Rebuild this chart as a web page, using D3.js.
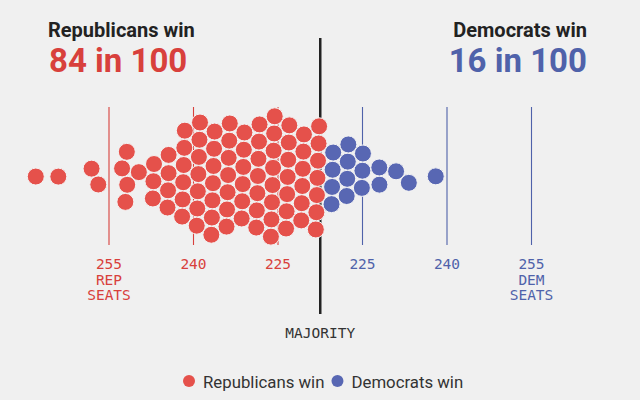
<!DOCTYPE html>
<html>
<head>
<meta charset="utf-8">
<script src="https://cdn.jsdelivr.net/npm/d3@7"></script>
<style>
  html, body { margin: 0; padding: 0; background: #f0f0f0; }
  svg { display: block; }
</style>
</head>
<body>
<div id="chart"></div>
<script>
// simulated outcomes
// republican wins, in republican seats
const repWins = [
    268, 264, 258, 257, 252, 252, 252, 252, 249,
    247, 246, 246, 245, 244, 243, 243, 242, 241, 241, 241,
    240, 240, 240, 239, 238, 238, 238, 238, 238,
    236, 236, 236, 236, 235, 235, 235,
    234, 234, 233, 233, 233, 233, 233, 232, 232, 231, 231, 231, 231, 230,
    229, 229, 229, 229, 228, 228, 226, 226, 226, 226, 226, 226, 226, 226, 225,
    224, 224, 223, 223, 223, 223, 221, 221, 221, 221, 221, 221,
    220, 219, 219, 219, 219, 218, 218
];
// democratic wins, in democratic seats
const demWins = [218, 219, 219, 219, 219, 221, 221, 222, 223, 224, 224, 228, 228, 231, 233, 238];

const totalSeats = 435;
const majority = 218;
const repTicks = [255, 240, 225];
const demTicks = [225, 240, 255];
const legendLabels = ["Republicans win", "Democrats win"];

const width = 640, height = 400;
const red = "#e5514b", blue = "#5867b3";
const redText = "#d8403c", blueText = "#4f62aa";
const mono = "'DejaVu Sans Mono', monospace";
const sans = "Roboto, 'Noto Sans', sans-serif";

const svg = d3.select('#chart')
    .append('svg')
    .attr('width', width)
    .attr('height', height);

svg.append('rect')
    .attr('width', width)
    .attr('height', height)
    .attr('fill', '#f0f0f0');

// x in republican seats, 255 on the left
const x = d3.scaleLinear()
    .domain([255, 180])
    .range([109, 531.5]);

const cy = 177, r = 8.5;

// tick lines
const ticks = repTicks.map(function (d) { return {s: d, label: d, party: 'rep'}; })
    .concat(demTicks.map(function (d) { return {s: totalSeats - d, label: d, party: 'dem'}; }));

svg.selectAll('.tick')
    .data(ticks)
    .join('line')
    .attr('class', 'tick')
    .attr('x1', d => x(d.s))
    .attr('x2', d => x(d.s))
    .attr('y1', 107)
    .attr('y2', 245)
    .attr('stroke', d => d.party == 'rep' ? redText : blueText)
    .attr('stroke-width', 1.1);

// majority line
svg.append('line')
    .attr('x1', x(majority - 0.5))
    .attr('x2', x(majority - 0.5))
    .attr('y1', 38)
    .attr('y2', 314)
    .attr('stroke', '#222')
    .attr('stroke-width', 2.5);

// beeswarm
const nodes = repWins.map(function (d) { return {s: d, party: 'rep'}; })
    .concat(demWins.map(function (d) { return {s: totalSeats - d, party: 'dem'}; }));

const sim = d3.forceSimulation(nodes)
    .force('x', d3.forceX(d => x(d.s)).strength(0.5))
    .force('y', d3.forceY(cy).strength(0.08))
    .force('collide', d3.forceCollide(r + 0.1).iterations(2))
    .stop();

for (let i = 0; i < 400; i++) sim.tick();

svg.selectAll('.dot')
    .data(nodes)
    .join('circle')
    .attr('class', 'dot')
    .attr('cx', d => d.x)
    .attr('cy', d => d.y)
    .attr('r', r)
    .attr('fill', d => d.party == 'rep' ? red : blue)
    .attr('stroke', '#f4f4f4')
    .attr('stroke-width', 1);

// tick labels
const labels = svg.selectAll('.tlabel')
    .data(ticks)
    .join('text')
    .attr('class', 'tlabel')
    .attr('x', d => x(d.s))
    .attr('y', 269)
    .attr('text-anchor', 'middle')
    .attr('font-family', mono)
    .attr('font-size', '14.5px')
    .attr('fill', d => d.party == 'rep' ? redText : blueText);

labels.each(function (d, i) {
    const t = d3.select(this);
    let lines = [d.label];
    if (d.label == 255) lines = lines.concat([d.party == 'rep' ? 'REP' : 'DEM', 'SEATS']);
    lines.forEach(function (l, j) {
        t.append('tspan')
            .attr('x', x(d.s))
            .attr('dy', j == 0 ? 0 : 15.5)
            .text(l);
    });
});

svg.append('text')
    .attr('x', x(majority - 0.5))
    .attr('y', 338)
    .attr('text-anchor', 'middle')
    .attr('font-family', mono)
    .attr('font-size', '14.5px')
    .attr('fill', '#333')
    .text('MAJORITY');

// headlines
const repShare = repWins.length, demShare = demWins.length;
const total = repShare + demShare;

svg.append('text')
    .attr('x', 48)
    .attr('y', 37)
    .attr('font-family', sans)
    .attr('font-weight', 'bold')
    .attr('font-size', '20px')
    .attr('fill', '#222')
    .text('Republicans win');

svg.append('text')
    .attr('x', 49)
    .attr('y', 72)
    .attr('font-family', sans)
    .attr('font-weight', 'bold')
    .attr('font-size', '33px')
    .attr('fill', redText)
    .text(repShare + ' in ' + total);

svg.append('text')
    .attr('x', 587)
    .attr('y', 37)
    .attr('text-anchor', 'end')
    .attr('font-family', sans)
    .attr('font-weight', 'bold')
    .attr('font-size', '20px')
    .attr('fill', '#222')
    .text('Democrats win');

svg.append('text')
    .attr('x', 587)
    .attr('y', 72)
    .attr('text-anchor', 'end')
    .attr('font-family', sans)
    .attr('font-weight', 'bold')
    .attr('font-size', '33px')
    .attr('fill', blueText)
    .text(demShare + ' in ' + total);

// legend
const legend = svg.append('g');
let lx = 189;
legendLabels.forEach(function (l, i) {
    legend.append('circle')
        .attr('cx', lx)
        .attr('cy', 381)
        .attr('r', 6)
        .attr('fill', i == 0 ? red : blue);
    const t = legend.append('text')
        .attr('x', lx + 14)
        .attr('y', 388)
        .attr('font-family', sans)
        .attr('font-size', '16.8px')
        .attr('fill', '#333')
        .text(l);
    lx += 14 + t.node().getComputedTextLength() + 13;
});
</script>
</body>
</html>
